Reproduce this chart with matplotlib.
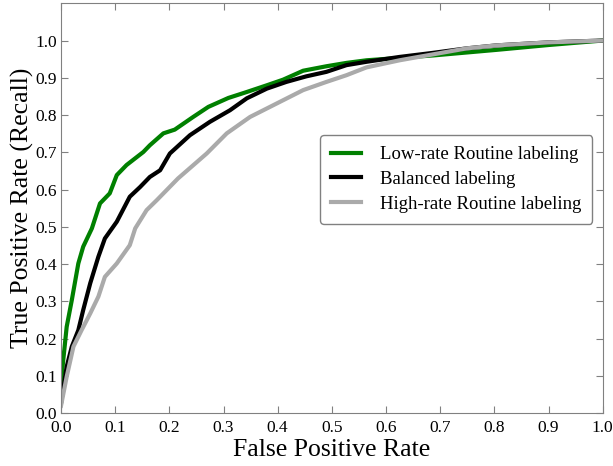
import numpy as np
import matplotlib
matplotlib.use("Agg")
import matplotlib.pyplot as plt

plt.rcParams['font.family'] = ['Liberation Serif', 'DejaVu Serif']

# ROC points (fpr, tpr)
low_fpr = [0.0, 0.001, 0.0105, 0.020, 0.032, 0.041, 0.057, 0.072, 0.090, 0.103, 0.121, 0.152,
           0.164, 0.189, 0.210, 0.244, 0.272, 0.309, 0.343, 0.380, 0.410, 0.447, 0.490, 0.527,
           0.564, 0.687, 0.804, 0.90, 1.0]
low_tpr = [0.03, 0.098, 0.232, 0.304, 0.402, 0.447, 0.496, 0.563, 0.590, 0.639, 0.666, 0.701,
           0.719, 0.751, 0.761, 0.795, 0.822, 0.846, 0.862, 0.880, 0.895, 0.919, 0.931, 0.940,
           0.947, 0.960, 0.975, 0.988, 1.0]

bal_fpr = [0.0, 0.0105, 0.020, 0.032, 0.041, 0.054, 0.069, 0.081, 0.103, 0.127, 0.146, 0.164,
           0.183, 0.201, 0.238, 0.275, 0.312, 0.343, 0.380, 0.416, 0.453, 0.490, 0.527, 0.564,
           0.625, 0.687, 0.749, 0.804, 0.90, 1.0]
bal_tpr = [0.027, 0.125, 0.179, 0.223, 0.277, 0.349, 0.420, 0.469, 0.514, 0.581, 0.607, 0.634,
           0.652, 0.697, 0.746, 0.782, 0.813, 0.845, 0.871, 0.889, 0.904, 0.916, 0.934, 0.943,
           0.956, 0.967, 0.979, 0.987, 0.995, 1.0]

high_fpr = [0.0, 0.0105, 0.023, 0.038, 0.054, 0.069, 0.081, 0.103, 0.127, 0.137, 0.158, 0.177,
            0.216, 0.269, 0.306, 0.349, 0.398, 0.447, 0.490, 0.527, 0.564, 0.625, 0.687, 0.749,
            0.804, 0.90, 1.0]
high_tpr = [0.02, 0.098, 0.179, 0.223, 0.268, 0.313, 0.366, 0.402, 0.451, 0.496, 0.545, 0.572,
            0.630, 0.697, 0.751, 0.795, 0.831, 0.867, 0.889, 0.907, 0.928, 0.947, 0.963, 0.979,
            0.987, 0.995, 1.0]

labels = ["Low-rate Routine labeling", "Balanced labeling", "High-rate Routine labeling"]
colors = ["green", "black", "#aaaaaa"]

fig = plt.figure(figsize=(6.13, 4.66), dpi=100)
ax = fig.add_axes([0.0995, 0.1131, 0.8837, 0.8799])

for fpr, tpr, lab, c in zip([low_fpr, bal_fpr, high_fpr], [low_tpr, bal_tpr, high_tpr], labels, colors):
    ax.plot(fpr, tpr, color=c, lw=3, label=lab)

ax.set_xlim(0, 1.0)
ax.set_ylim(0, 1.1)
ax.set_xticks(np.arange(0, 1.01, 0.1))
ax.set_yticks(np.arange(0, 1.01, 0.1))
ax.tick_params(direction="in", length=5, color="#808080", labelsize=12.5,
               top=True, right=True)
ax.tick_params(axis="x", pad=5)
ax.tick_params(axis="y", pad=3)
for s in ax.spines.values():
    s.set_color("#808080")

ax.set_xlabel("False Positive Rate", fontsize=18.5, labelpad=2)
ax.set_ylabel("True Positive Rate (Recall)", fontsize=18.5, labelpad=1)

leg = ax.legend(loc="upper right", bbox_to_anchor=(0.981, 0.679), borderaxespad=0,
                fontsize=13.5, handlelength=1.6, handletextpad=1.0, borderpad=0.6,
                labelspacing=0.4, fancybox=True, edgecolor="#808080", framealpha=1)

fig.savefig("out.png", dpi=100)
